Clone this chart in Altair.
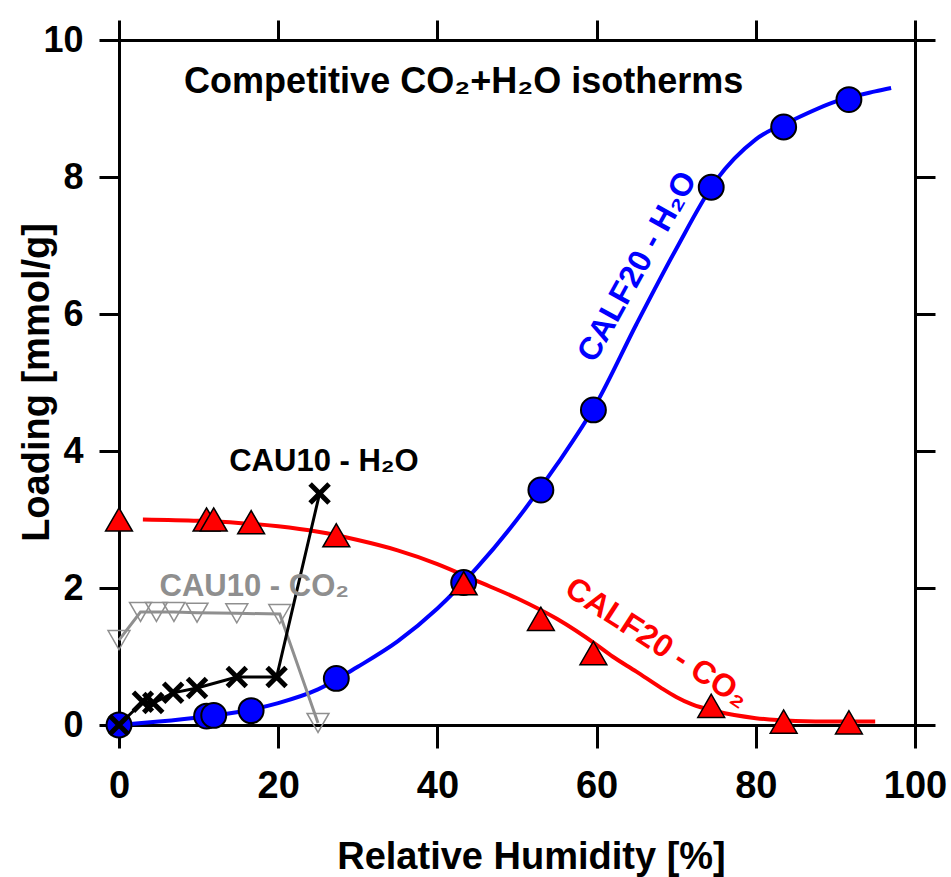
import altair as alt
import pandas as pd

FONT = "Liberation Sans, Arial, Helvetica, sans-serif"

# CALF20 measured competitive loadings (same RH points for both gases)
calf_rh = [0, 11.0, 11.9, 16.6, 27.3, 43.3, 53.0, 59.6, 74.4, 83.5, 91.7]
calf_h2o = [0, 0.13, 0.14, 0.21, 0.68, 2.08, 3.43, 4.60, 7.85, 8.73, 9.13]
calf_co2 = [3.0, 3.0, 3.0, 2.96, 2.77, 2.07, 1.55, 1.05, 0.28, 0.05, 0.04]

# CALF20 model curves
fit_h2o_rh = [0, 5, 10, 15, 20, 25, 30, 35, 40, 45, 50, 55, 60, 65, 70, 75, 80, 85, 90, 95, 97]
fit_h2o = [0.0, 0.05, 0.11, 0.19, 0.32, 0.52, 0.85, 1.22, 1.70, 2.30, 3.00, 3.80, 4.70,
           5.85, 6.95, 7.95, 8.55, 8.85, 9.10, 9.25, 9.30]
fit_co2_rh = [3, 10, 15, 20, 25, 30, 35, 40, 45, 50, 55, 60, 62, 65, 68, 70, 72, 75, 80, 85, 90, 95]
fit_co2 = [3.0, 2.98, 2.95, 2.90, 2.82, 2.70, 2.55, 2.35, 2.10, 1.85, 1.55, 1.17, 1.00,
           0.78, 0.55, 0.41, 0.30, 0.20, 0.10, 0.06, 0.05, 0.05]

# CAU10 measured loadings
cau_h2o_rh = [0, 3.0, 4.3, 6.8, 9.8, 14.8, 19.8, 25.2]
cau_h2o = [0, 0.34, 0.32, 0.47, 0.54, 0.70, 0.70, 3.38]
cau_co2_rh = [0, 2.7, 4.7, 6.9, 9.8, 14.8, 20.2, 25.0]
cau_co2 = [1.24, 1.65, 1.65, 1.65, 1.64, 1.63, 1.62, 0.03]

x_ticks = [0, 20, 40, 60, 80, 100]
y_ticks = [0, 2, 4, 6, 8, 10]

BLUE = "#0000ff"
RED = "#ff0000"
GRAY = "#8f8f8f"

xs = alt.Scale(domain=[0, 100], nice=False, zero=False)
ys = alt.Scale(domain=[0, 10], nice=False, zero=False)


def frame(xv, yv):
    return pd.DataFrame({"rh": xv, "load": yv})


def enc(chart):
    return chart.encode(
        x=alt.X("rh:Q", scale=xs, axis=None),
        y=alt.Y("load:Q", scale=ys, axis=None),
    )


# bottom / left axes carried by the blue model curve
axis_common = dict(
    grid=False, domainColor="black", domainWidth=3, tickColor="black", tickWidth=3,
    labelFont=FONT, labelFontWeight="bold", labelColor="black",
    titleFont=FONT, titleFontWeight="bold", titleColor="black", titleFontSize=38,
    labelFlush=False, labelOverlap=False,
)

blue_fit = alt.Chart(frame(fit_h2o_rh, fit_h2o)).mark_line(
    color=BLUE, strokeWidth=4, interpolate="monotone"
).encode(
    x=alt.X("rh:Q", scale=xs, axis=alt.Axis(
        orient="bottom", values=x_ticks, tickSize=23, labelFontSize=38, labelPadding=19,
        title="Relative Humidity [%]", titleX=412, titleY=143, titleAlign="center",
        titleBaseline="alphabetic", **axis_common)),
    y=alt.Y("load:Q", scale=ys, axis=alt.Axis(
        orient="left", values=y_ticks, tickSize=20, labelFontSize=36, labelPadding=16,
        title="Loading [mmol/g]", titleAngle=270, titleX=-71, titleY=342,
        titleAlign="center", titleBaseline="alphabetic", **axis_common)),
)

# top / right mirrored axes with outward ticks, no labels
mirror = alt.Chart(frame(fit_h2o_rh, fit_h2o)).mark_line(opacity=0).encode(
    x=alt.X("rh:Q", scale=xs, title=None, axis=alt.Axis(
        orient="top", values=x_ticks, tickSize=20, labels=False, **axis_common)),
    y=alt.Y("load:Q", scale=ys, title=None, axis=alt.Axis(
        orient="right", values=y_ticks, tickSize=20, labels=False, **axis_common)),
)

red_fit = enc(alt.Chart(frame(fit_co2_rh, fit_co2)).mark_line(
    color=RED, strokeWidth=4, interpolate="monotone"))

cau_co2_line = enc(alt.Chart(frame(cau_co2_rh, cau_co2)).mark_line(
    color=GRAY, strokeWidth=3))
cau_co2_pts = enc(alt.Chart(frame(cau_co2_rh, cau_co2)).mark_point(
    shape="triangle-down", size=480, filled=False, stroke=GRAY, strokeWidth=1.5, opacity=1))

cau_h2o_line = enc(alt.Chart(frame(cau_h2o_rh, cau_h2o)).mark_line(
    color="black", strokeWidth=3))
cau_h2o_pts = enc(alt.Chart(frame(cau_h2o_rh, cau_h2o)).mark_point(
    shape="M-1,-1L1,1M-1,1L1,-1", size=360, filled=False, stroke="black",
    strokeWidth=5, opacity=1))

calf_h2o_pts = enc(alt.Chart(frame(calf_rh, calf_h2o)).mark_point(
    shape="circle", size=620, filled=True, fill=BLUE, stroke="black",
    strokeWidth=2, opacity=1))
calf_co2_pts = enc(alt.Chart(frame(calf_rh, calf_co2)).mark_point(
    shape="triangle-up", size=720, filled=True, fill=RED, stroke="black",
    strokeWidth=1.5, opacity=1))


def note(text, x, y, color, size, angle=0):
    df = pd.DataFrame({"rh": [x], "load": [y], "t": [text]})
    return enc(alt.Chart(df).mark_text(
        font=FONT, fontWeight="bold", fontSize=size, color=color, angle=angle,
        align="center", baseline="middle")).encode(text="t:N")


notes = [
    note("Competitive CO₂+H₂O isotherms", 43.3, 9.39, "black", 36),
    note("CAU10 - H₂O", 25.75, 3.84, "black", 31),
    note("CAU10 - CO₂", 17.0, 2.01, GRAY, 31),
    note("CALF20 - H₂O", 65.1, 6.69, BLUE, 32, 299),
    note("CALF20 - CO₂", 67.6, 1.2, RED, 32, 33),
]

chart = alt.layer(
    blue_fit, mirror, red_fit,
    cau_co2_line, cau_co2_pts,
    cau_h2o_line,
    calf_h2o_pts, cau_h2o_pts, calf_co2_pts,
    *notes,
).resolve_axis(
    x="independent", y="independent"
).properties(
    width=796, height=685,
    autosize=alt.AutoSizeParams(type="none"),
    padding={"left": 119, "top": 40, "right": 36, "bottom": 152},
).configure_view(stroke=None).configure(background="white")

chart.save("out.html", embed_options={"renderer": "svg", "actions": False})
